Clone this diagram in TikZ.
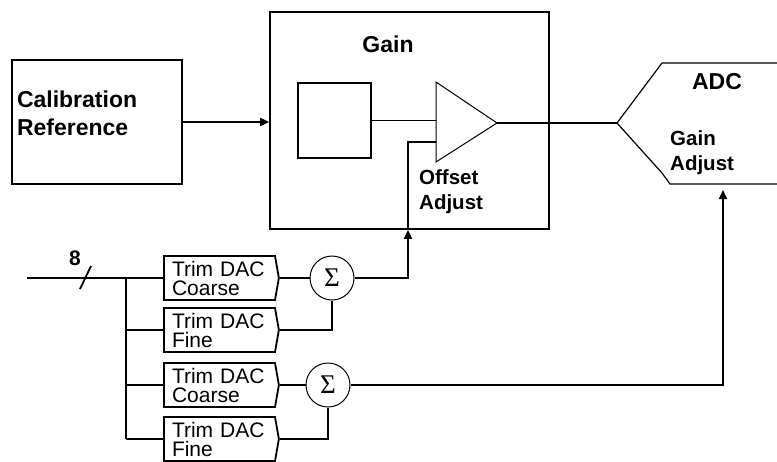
\documentclass[tikz,border=0pt]{standalone}
\usepackage{fontspec}
\setmainfont{Liberation Sans}
\newfontfamily\sigmafont{Liberation Serif}
\usetikzlibrary{arrows.meta, shapes.symbols, positioning}

\tikzset{
  wire/.style={line width=1.8pt},
  feed/.style={wire, -{Triangle[length=9pt,width=8pt]}},
  block/.style={draw, line width=1.8pt, inner sep=0pt},
  title/.style={font=\fontsize{23}{28}\selectfont\bfseries, inner sep=0pt},
  tag/.style={font=\fontsize{20.5}{25}\selectfont\bfseries, align=left, inner sep=0pt},
  calbox/.style={block, title, align=left, text width=160pt, inner xsep=5pt,
    minimum height=124pt, text depth=45pt},
  dac/.style={draw, line width=1.8pt, signal, signal to=east, signal pointer angle=160,
    minimum width=113pt, minimum height=44pt, inner xsep=8pt, inner ysep=0pt,
    text width=95pt, align=left, font=\fontsize{21}{19}\selectfont},
  sum/.style={draw, circle, line width=1pt, minimum size=44pt, inner sep=0pt,
    font=\sigmafont\fontsize{27}{27}\selectfont}
}

\begin{document}
\begin{tikzpicture}[x=1pt, y=-1pt]
  \useasboundingbox (0,0) rectangle (777,461);

  % calibration reference and gain stage
  \node[calbox] (calib) at (97,122) {Calibration\\Reference};
  \node[block, minimum width=279pt, minimum height=217pt] (gain) at (409.5,120.5) {};
  \node[title] (gainlbl) at (388,44) {Gain};
  \node[block, minimum width=73pt, minimum height=75pt] (sq) at (334.5,120.5) {};

  % amplifier
  \coordinate (ampT) at (436,82);
  \coordinate (ampB) at (436,162);
  \coordinate (ampO) at (497,123);
  \coordinate (offin) at (436,142);
  \coordinate (offup) at (408,142);
  \draw[line width=1pt] (ampT) -- (ampO) -- (ampB) -- cycle;
  \node[tag, anchor=north west] (offlbl) at (419,169) {Offset\\Adjust};

  % ADC
  \coordinate (adcIn) at (617,123);
  \coordinate (adcGain) at (723,190);
  \draw[line width=1.2pt] (777,63) -- (662,63) -- (adcIn) -- (662,173) -- (670,184) -- (777,184);
  \node[title] (adclbl) at (717,82) {ADC};
  \node[tag, anchor=north west] (adcgainlbl) at (670,130) {Gain\\Adjust};

  \draw[feed] (calib.east) -- (calib.east -| gain.west);
  \draw[wire] (sq.east) -- (sq.east -| ampT);
  \draw[wire] (ampO) -- (adcIn);

  % trim DACs
  \node[dac] (dacA) at (219.5,278) {Trim DAC\\Coarse};
  \node[dac] (dacB) at (219.5,330) {Trim DAC\\Fine};
  \node[dac] (dacC) at (219.5,385) {Trim DAC\\Coarse};
  \node[dac] (dacD) at (219.5,439) {Trim DAC\\Fine};
  \node[sum] (sumA) at (332,278) {Σ};
  \node[sum] (sumB) at (328,385) {Σ};

  % 8 bit bus
  \coordinate (busIn) at (27,278);
  \coordinate (bus) at (126,278);
  \draw[wire] (busIn) -- (dacA.west);
  \draw[wire] (bus) -- (bus |- dacD.west);
  \foreach \d in {dacB,dacC,dacD}
    \draw[wire] (bus |- \d.west) -- (\d.west);
  \draw[wire] (80,289) -- (91,266);
  \node[title, font=\fontsize{21}{24}\selectfont\bfseries] (width) at (75,258) {8};

  % summing paths
  \draw[wire] (dacA.east) -- (sumA.west);
  \draw[wire] (dacB.east) -| (sumA.south);
  \draw[wire] (dacC.east) -- (sumB.west);
  \draw[wire] (dacD.east) -| (sumB.south);
  \draw[feed] (sumA.east) -| (offup |- gain.south);
  \draw[wire] (offup |- gain.south) |- (offin);
  \draw[feed] (sumB.east) -| (adcGain);
\end{tikzpicture}
\end{document}
